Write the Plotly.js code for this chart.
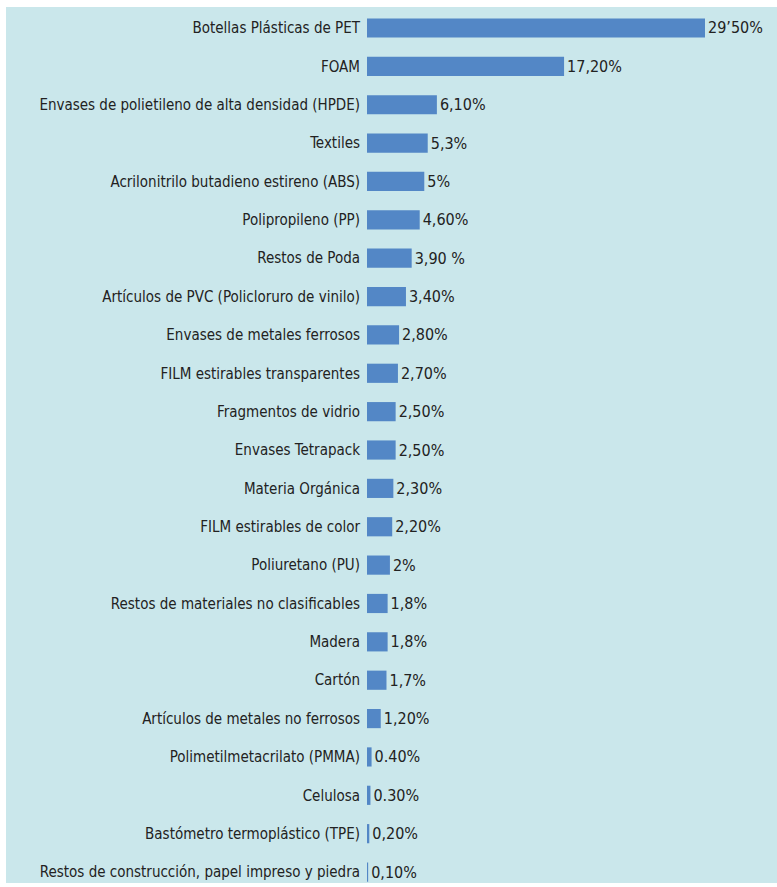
<!DOCTYPE html>
<html>
<head>
<meta charset="utf-8">
<script src="https://cdn.plot.ly/plotly-3.0.1.min.js"></script>
<style>html,body{margin:0;padding:0;background:#fff;}#chart{width:777px;height:887px;}</style>
</head>
<body>
<div id="chart"></div>
<script>
const categories = [
  "Botellas Plásticas de PET",
  "FOAM",
  "Envases de polietileno de alta densidad (HPDE)",
  "Textiles",
  "Acrilonitrilo butadieno estireno (ABS)",
  "Polipropileno (PP)",
  "Restos de Poda",
  "Artículos de PVC (Policloruro de vinilo)",
  "Envases de metales ferrosos",
  "FILM estirables transparentes",
  "Fragmentos de vidrio",
  "Envases Tetrapack",
  "Materia Orgánica",
  "FILM estirables de color",
  "Poliuretano (PU)",
  "Restos de materiales no clasificables",
  "Madera",
  "Cartón",
  "Artículos de metales no ferrosos",
  "Polimetilmetacrilato (PMMA)",
  "Celulosa",
  "Bastómetro termoplástico (TPE)",
  "Restos de construcción, papel impreso y piedra"
];
const values = [29.5, 17.2, 6.1, 5.3, 5, 4.6, 3.9, 3.4, 2.8, 2.7, 2.5, 2.5, 2.3, 2.2, 2, 1.8, 1.8, 1.7, 1.2, 0.4, 0.3, 0.2, 0.1];
const valueLabels = ["29’50%", "17,20%", "6,10%", "5,3%", "5%", "4,60%", "3,90 %", "3,40%", "2,80%", "2,70%", "2,50%", "2,50%", "2,30%", "2,20%", "2%", "1,8%", "1,8%", "1,7%", "1,20%", "0.40%", "0.30%", "0,20%", "0,10%"];

const FONT = "'DejaVu Sans Condensed', 'Liberation Sans Narrow', sans-serif";
const BG = "#cae7eb";

const trace = {
  type: "bar",
  orientation: "h",
  y: categories,
  x: values,
  text: valueLabels,
  textposition: "outside",
  cliponaxis: false,
  textfont: {family: FONT, size: 16, color: "#222"},
  marker: {color: "#5387c6"},
  width: 0.5,
  hoverinfo: "skip"
};

const layout = {
  width: 777,
  height: 887,
  paper_bgcolor: BG,
  plot_bgcolor: BG,
  margin: {l: 367, r: 72, t: 9, b: 0, pad: 0},
  showlegend: false,
  xaxis: {range: [0, 29.5], visible: false, fixedrange: true},
  yaxis: {
    type: "category",
    showgrid: false,
    zeroline: false,
    showline: false,
    ticks: "",
    ticklabelstandoff: 6,
    tickfont: {family: FONT, size: 15, color: "#222"},
    range: [22.39, -0.495]
  },
  shapes: [
    {type: "rect", xref: "paper", yref: "paper", x0: -2, x1: 2, y0: 1.0023, y1: 1.05, fillcolor: "#ffffff", line: {width: 0}, layer: "below"},
    {type: "rect", xref: "paper", yref: "paper", x0: -1.2, x1: -1.068, y0: -0.1, y1: 1.1, fillcolor: "#ffffff", line: {width: 0}, layer: "below"},
    {type: "rect", xref: "paper", yref: "paper", x0: -2, x1: 2, y0: -0.1, y1: 0.0046, fillcolor: "#ffffff", line: {width: 0}, layer: "below"}
  ]
};

Plotly.newPlot("chart", [trace], layout, {displayModeBar: false, staticPlot: true});
</script>
</body>
</html>
